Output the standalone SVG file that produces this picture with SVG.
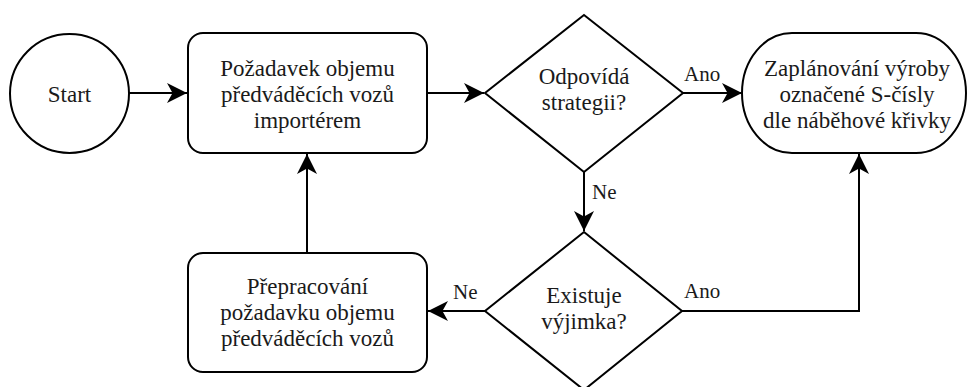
<svg xmlns="http://www.w3.org/2000/svg" width="968" height="387" viewBox="0 0 968 387">
<defs>
<style>
.s{fill:#fff;stroke:#000;stroke-width:2}
.t{font-family:"Liberation Serif","Times New Roman",serif;font-size:23px;fill:#1a1a1a;text-anchor:middle}
.l{font-family:"Liberation Serif","Times New Roman",serif;font-size:21px;fill:#1a1a1a}
.c{fill:none;stroke:#000;stroke-width:2}
</style>
<marker id="ah" markerUnits="userSpaceOnUse" markerWidth="20" markerHeight="20" viewBox="0 0 18 18" refX="18" refY="9" orient="auto">
<path d="M0,0 L18,9 L0,18 L5,9 Z" fill="#000"/>
</marker>
</defs>
<rect width="968" height="387" fill="#fff"/>
<g id="connectors">
<path class="c" d="M129,93 H187" marker-end="url(#ah)"/>
<path class="c" d="M427,93 H484" marker-end="url(#ah)"/>
<path class="c" d="M683,93 H742" marker-end="url(#ah)"/>
<path class="c" d="M584,172 V231" marker-end="url(#ah)"/>
<path class="c" d="M485,311 H428" marker-end="url(#ah)"/>
<path class="c" d="M682,311 H859 V154" marker-end="url(#ah)"/>
<path class="c" d="M307,253 V154" marker-end="url(#ah)"/>
<text class="l" x="684" y="81">Ano</text>
<text class="l" x="592" y="199">Ne</text>
<text class="l" x="453" y="299">Ne</text>
<text class="l" x="684" y="298">Ano</text>
</g>
<g id="start">
<circle class="s" cx="69.5" cy="93.5" r="59.5"/>
<text class="t" x="69.5" y="101.5">Start</text>
</g>
<g id="pozadavek">
<rect class="s" x="188" y="33" width="239" height="120" rx="15"/>
<text class="t" x="307.5" y="76">Požadavek objemu</text>
<text class="t" x="307.5" y="102">předváděcích vozů</text>
<text class="t" x="307.5" y="128">importérem</text>
</g>
<g id="odpovida">
<polygon class="s" points="584,15 683,93 584,172 485,93"/>
<text class="t" x="584" y="84">Odpovídá</text>
<text class="t" x="584" y="110">strategii?</text>
</g>
<g id="zaplanovani">
<rect class="s" x="742" y="33" width="224" height="120" rx="50" ry="60"/>
<text class="t" x="857" y="76">Zaplánování výroby</text>
<text class="t" x="857" y="102">označené S-čísly</text>
<text class="t" x="857" y="128">dle náběhové křivky</text>
</g>
<g id="existuje">
<polygon class="s" points="584,232 682,311 584,390 485,311"/>
<text class="t" x="584" y="303">Existuje</text>
<text class="t" x="584" y="329">výjimka?</text>
</g>
<g id="prepracovani">
<rect class="s" x="188" y="253" width="239" height="119" rx="15"/>
<text class="t" x="307.5" y="294">Přepracování</text>
<text class="t" x="307.5" y="320">požadavku objemu</text>
<text class="t" x="307.5" y="346">předváděcích vozů</text>
</g>
</svg>
